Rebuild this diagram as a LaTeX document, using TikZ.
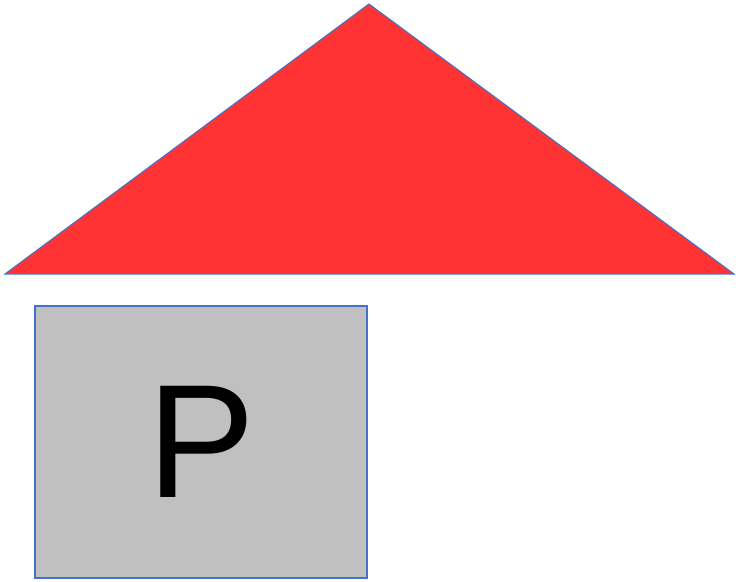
\documentclass[tikz,border=0pt]{standalone}
\usepackage{fontspec}
\setmainfont{Liberation Sans}
\definecolor{roofred}{HTML}{FF3333}
\definecolor{wallgray}{HTML}{C0C0C0}
\definecolor{edgeblue}{HTML}{4472C4}
\begin{document}
\begin{tikzpicture}[x=1cm, y=1cm,
    outline/.style={draw=edgeblue, line width=0.6pt},
    wallbox/.style={outline, fill=wallgray, minimum width=6.64cm,
      minimum height=5.44cm, inner sep=0pt, font=\fontsize{92}{92}\selectfont}]
  \useasboundingbox (0,0) rectangle (14.72,11.64);
  %% ── Roof ─────────────────────────────────────────────────
  \draw[outline, fill=roofred]
    (0.10,6.16) -- (7.38,11.56) -- (14.68,6.16) -- cycle;
  %% ── Wall with label ──────────────────────────────────────
  \node[wallbox] (wall) at (4.02,2.80) {P};
\end{tikzpicture}
\end{document}
